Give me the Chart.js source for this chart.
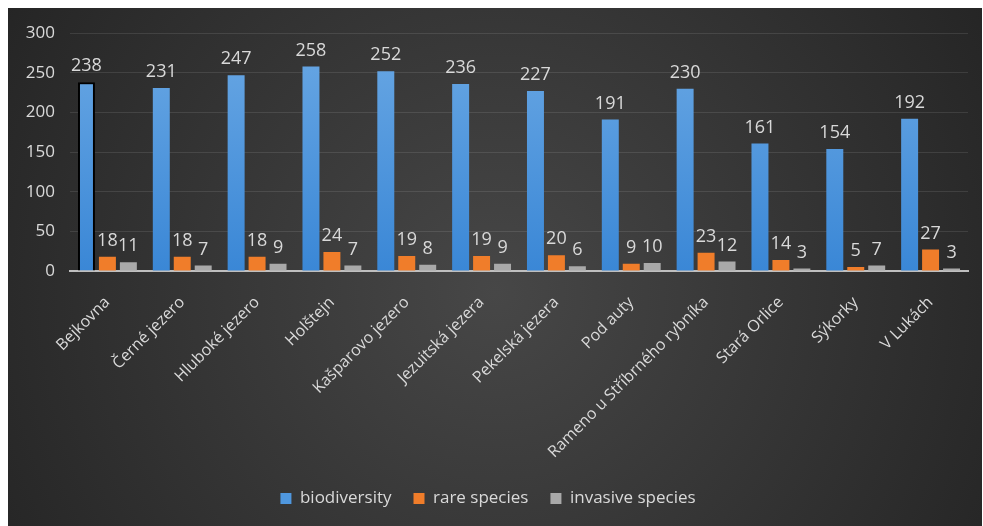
<!DOCTYPE html>
<html>
<head>
<meta charset="utf-8">
<script src="https://cdn.jsdelivr.net/npm/chart.js@4.4.0/dist/chart.umd.min.js"></script>
<style>
  html, body { margin: 0; padding: 0; background: #fff; }
  #wrap { position: absolute; left: 8px; top: 8px; width: 974px; height: 518px; }
</style>
</head>
<body>
<div id="wrap"><canvas id="chart"></canvas></div>
<script>
const locations = ['Bejkovna', 'Černé jezero', 'Hluboké jezero', 'Holštejn', 'Kašparovo jezero',
    'Jezuitská jezera', 'Pekelská jezera', 'Pod auty', 'Rameno u Stříbrného rybníka',
    'Stará Orlice', 'Sýkorky', 'V Lukách'];
const biodiversity = [238, 231, 247, 258, 252, 236, 227, 191, 230, 161, 154, 192];
const rareSpecies = [18, 18, 18, 24, 19, 19, 20, 9, 23, 14, 5, 27];
const invasiveSpecies = [11, 7, 9, 7, 8, 9, 6, 10, 12, 3, 7, 3];
const yTicks = [0, 50, 100, 150, 200, 250, 300];

const textColor = '#d9d9d9';
const font = 'Open Sans';

// dark radial background like the Excel style
const background = {
    id: 'background',
    beforeDraw(chart) {
        const { ctx, width, height } = chart;
        const g = ctx.createRadialGradient(width * 0.5, height * 0.55, 0, width * 0.5, height * 0.55, width * 0.62);
        g.addColorStop(0, '#474747');
        g.addColorStop(1, '#232323');
        ctx.save();
        ctx.fillStyle = g;
        ctx.fillRect(0, 0, width, height);
        ctx.restore();
    }
};

// value labels above each bar
const valueLabels = {
    id: 'valueLabels',
    afterDatasetsDraw(chart) {
        const ctx = chart.ctx;
        ctx.save();
        ctx.fillStyle = textColor;
        ctx.font = '18px "' + font + '"';
        ctx.textAlign = 'center';
        ctx.textBaseline = 'bottom';
        chart.data.datasets.forEach((ds, i) => {
            chart.getDatasetMeta(i).data.forEach((bar, j) => {
                ctx.fillText(ds.data[j], bar.x, bar.y - 7);
            });
        });
        ctx.restore();
    }
};

function blueGradient(context) {
    const area = context.chart.chartArea;
    if (!area) return '#4a90d9';
    const g = context.chart.ctx.createLinearGradient(0, area.top, 0, area.bottom);
    g.addColorStop(0, '#6aa8e4');
    g.addColorStop(1, '#3a87d6');
    return g;
}

const legendColors = ['#4f97de', '#f07d2a', '#a9a9a9'];

new Chart(document.getElementById('chart'), {
    type: 'bar',
    data: {
        labels: locations,
        datasets: [{
            label: 'biodiversity',
            data: biodiversity,
            backgroundColor: blueGradient,
            borderColor: biodiversity.map((v, i) => i === 0 ? '#000' : 'rgba(0,0,0,0)'),
            borderWidth: biodiversity.map((v, i) => i === 0 ? 2 : 0)
        }, {
            label: 'rare species',
            data: rareSpecies,
            backgroundColor: '#f07d2a'
        }, {
            label: 'invasive species',
            data: invasiveSpecies,
            backgroundColor: '#a9a9a9'
        }]
    },
    options: {
        responsive: true,
        maintainAspectRatio: false,
        animation: false,
        datasets: {
            bar: { categoryPercentage: 0.84, barPercentage: 0.81 }
        },
        layout: { padding: { top: 19, right: 14, left: 0, bottom: 9 } },
        plugins: {
            legend: {
                position: 'bottom',
                labels: {
                    color: textColor,
                    font: { family: font, size: 17 },
                    boxWidth: 11,
                    boxHeight: 11,
                    padding: 22,
                    generateLabels(chart) {
                        return chart.data.datasets.map((ds, i) => ({
                            text: ds.label,
                            fillStyle: legendColors[i],
                            strokeStyle: legendColors[i],
                            lineWidth: 0,
                            fontColor: textColor,
                            datasetIndex: i
                        }));
                    }
                }
            },
            tooltip: { enabled: false }
        },
        scales: {
            x: {
                grid: { display: false },
                border: { color: '#bfbfbf', width: 2 },
                ticks: {
                    color: textColor,
                    font: { family: font, size: 16 },
                    maxRotation: 45,
                    minRotation: 45,
                    padding: 14
                },
                afterFit(scale) { scale.height = 197; }
            },
            y: {
                min: 0,
                max: 300,
                afterBuildTicks(scale) { scale.ticks = yTicks.map(v => ({ value: v })); },
                grid: { color: 'rgba(255,255,255,0.1)', drawTicks: false },
                border: { display: false },
                ticks: {
                    color: textColor,
                    font: { family: font, size: 17 },
                    padding: 15
                },
                afterFit(scale) { scale.width = 62; }
            }
        }
    },
    plugins: [background, valueLabels]
});
</script>
</body>
</html>
